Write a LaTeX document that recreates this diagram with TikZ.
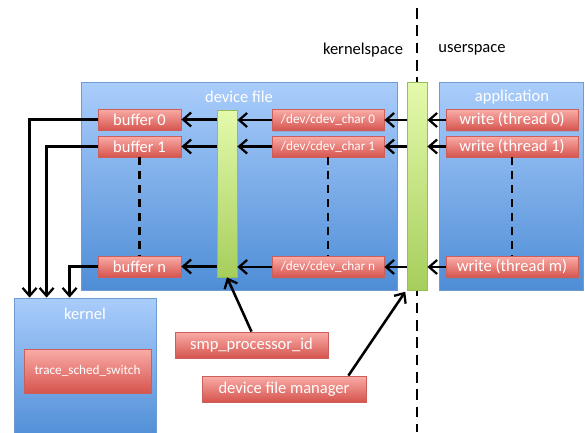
\documentclass[tikz,border=0pt]{standalone}
\usepackage{fontspec}
\setmainfont{Carlito}
\usetikzlibrary{arrows.meta,shadows}
\definecolor{bluetop}{RGB}{170,205,251}
\definecolor{bluebot}{RGB}{78,141,214}
\definecolor{blueline}{RGB}{110,155,210}
\definecolor{redtop}{RGB}{250,172,167}
\definecolor{redbot}{RGB}{214,84,78}
\definecolor{redline}{RGB}{205,95,90}
\definecolor{greentop}{RGB}{228,250,172}
\definecolor{greenbot}{RGB}{166,206,92}
\definecolor{greenline}{RGB}{150,190,85}
\tikzset{
  container/.style={draw=blueline, line width=0.6pt, top color=bluetop, bottom color=bluebot, inner sep=0pt,
    drop shadow={opacity=0.25, shadow xshift=1pt, shadow yshift=-1pt}},
  redbox/.style={draw=redline, line width=0.6pt, top color=redtop, bottom color=redbot, inner sep=0pt,
    text=white, font=\fontsize{12.4}{14}\selectfont,
    drop shadow={opacity=0.3, shadow xshift=1pt, shadow yshift=-1pt}},
  smallred/.style={redbox, font=\fontsize{9.9}{12}\selectfont},
  greenbar/.style={draw=greenline, line width=0.6pt, top color=greentop, bottom color=greenbot, inner sep=0pt,
    minimum width=15pt, drop shadow={opacity=0.25, shadow xshift=1pt, shadow yshift=-1pt}},
  title/.style={text=white, font=\fontsize{12.4}{14}\selectfont},
  spacelabel/.style={text=black, font=\fontsize{12.4}{14}\selectfont},
  arr/.style={line width=1.9pt, -{Straight Barb[length=6pt,width=10.5pt,line width=1.7pt]}},
  dashline/.style={line width=1.9pt, dash pattern=on 6pt off 4.5pt},
  divline/.style={line width=1.9pt, dash pattern=on 8pt off 5pt},
}
\begin{document}
\begin{tikzpicture}[x=0.75pt,y=-0.75pt]
\useasboundingbox (0,0) rectangle (585,432);
% containers
\node[container, minimum width=237pt, minimum height=156pt] (devfile) at (239,186) {};
\node[container, minimum width=108pt, minimum height=156pt] (app) at (511,186) {};
\node[container, minimum width=106.5pt, minimum height=106.5pt] (kernel) at (85,369) {};
\node[title] (devfiletitle) at (239,97) {device file};
\node[title] (apptitle) at (512,97) {application};
\node[title] (kerneltitle) at (85,314) {kernel};
% divider
\coordinate (divtop) at (417,8);
\coordinate (divbot) at (417,432);
\draw[divline] (divtop) -- (divbot);
\node[spacelabel] (kspace) at (363,50) {kernelspace};
\node[spacelabel] (uspace) at (472,50) {userspace};
% green bars
\node[greenbar, minimum height=125.25pt] (green1) at (227,193.5) {};
\node[greenbar, minimum height=156pt] (green2) at (417,186) {};
% buffers
\node[redbox, minimum width=62.25pt, minimum height=15.75pt] (buf0) at (139.5,119.5) {buffer 0};
\node[redbox, minimum width=62.25pt, minimum height=15.75pt] (buf1) at (139.5,146.5) {buffer 1};
\node[redbox, minimum width=62.25pt, minimum height=15.75pt] (bufn) at (139.5,266.5) {buffer n};
% cdev
\node[smallred, minimum width=84pt, minimum height=15.75pt] (cdev0) at (328,120) {/dev/cdev\_char 0};
\node[smallred, minimum width=84pt, minimum height=15.75pt] (cdev1) at (328,146.5) {/dev/cdev\_char 1};
\node[smallred, minimum width=84pt, minimum height=15.75pt] (cdevn) at (328,267) {/dev/cdev\_char n};
% writes
\node[redbox, minimum width=99pt, minimum height=15.75pt] (write0) at (512,120) {write (thread 0)};
\node[redbox, minimum width=99pt, minimum height=15.75pt] (write1) at (512,146.5) {write (thread 1)};
\node[redbox, minimum width=99pt, minimum height=15.75pt] (writem) at (512,267) {write (thread m)};
% kernel content and helpers
\node[smallred, minimum width=95.25pt, minimum height=33pt] (trace) at (87.5,371) {trace\_sched\_switch};
\node[redbox, minimum width=114.75pt, minimum height=19.5pt] (smp) at (251.5,345) {smp\_processor\_id};
\node[redbox, minimum width=123pt, minimum height=19.5pt] (dfm) at (284,389) {device file manager};
% dashed continuation lines
\draw[dashline] (buf1.south) -- (bufn.north);
\draw[dashline] (cdev1.south) -- (cdevn.north);
\draw[dashline] (write1.south) -- (writem.north);
% horizontal arrows
\foreach \r in {0,1,n}{
  \draw[arr] (buf\r.east -| green1.west) -- (buf\r.east);
  \draw[arr] (cdev\r.west) -- (cdev\r.west -| green1.east);
  \draw[arr] (cdev\r.east -| green2.west) -- (cdev\r.east);
}
\draw[arr] (write0.west) -- (write0.west -| green2.east);
\draw[arr] (write1.west) -- (write1.west -| green2.east);
\draw[arr] (writem.west) -- (writem.west -| green2.east);
% arrows into kernel
\draw[arr] (buf0.west) -| ([xshift=12pt]kernel.north west);
\draw[arr] (buf1.west) -| ([xshift=24.75pt]kernel.north west);
\draw[arr] (bufn.west) -| ([xshift=42pt]kernel.north west);
% helper arrows
\draw[arr] (smp.north) -- (green1.south);
\draw[arr] ([xshift=-13.5pt]dfm.north east) -- ([xshift=-1pt,yshift=-1pt]green2.south west);
\end{tikzpicture}
\end{document}
